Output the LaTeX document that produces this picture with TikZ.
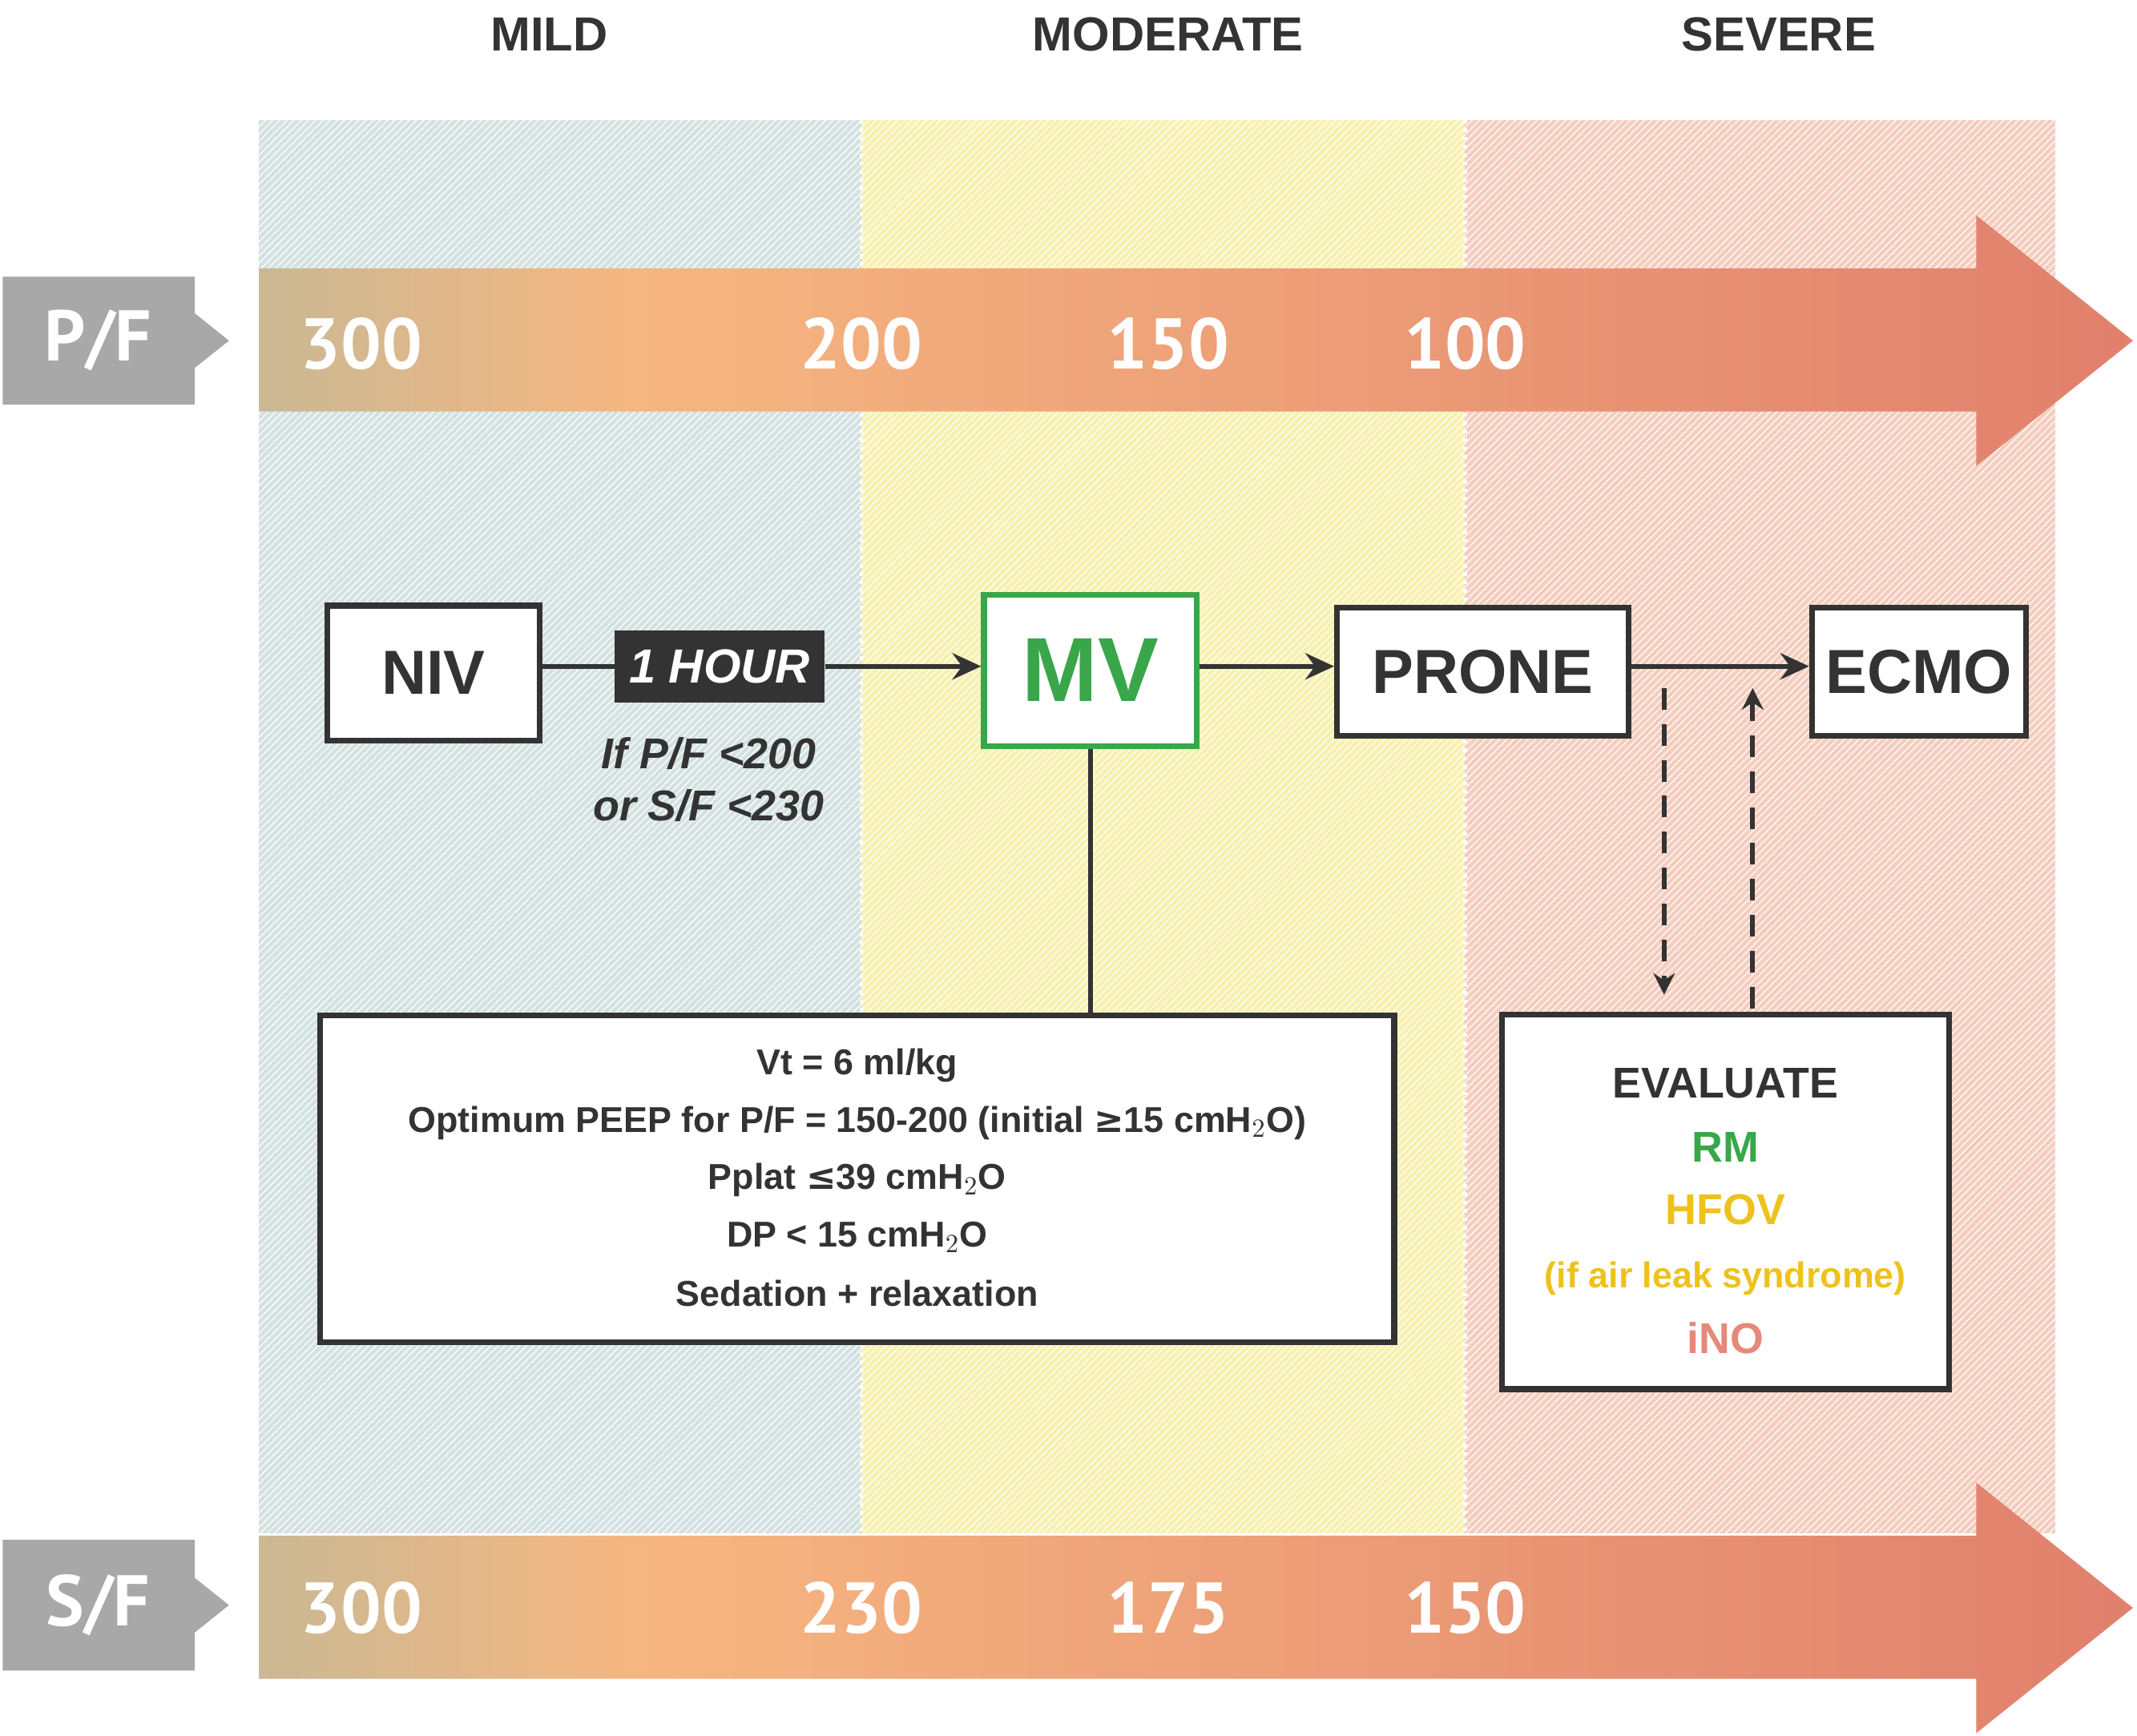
\documentclass[tikz,border=0pt]{standalone}
\usepackage{fontspec}
\setmainfont{Liberation Sans}
\newfontfamily\numfont{PT Sans}
\usetikzlibrary{arrows.meta,patterns}
\definecolor{cteal}{HTML}{5BBFC6}
\definecolor{corange}{HTML}{F6B680}
\definecolor{cred}{HTML}{D45E60}
\definecolor{bgA}{HTML}{D3E2E0}
\definecolor{bgB}{HTML}{F8F0AE}
\definecolor{bgC}{HTML}{F5CDBE}
\definecolor{dk}{HTML}{333333}
\definecolor{gr}{HTML}{A8A8A8}
\definecolor{mvg}{HTML}{3AA64A}
\definecolor{hy}{HTML}{EEC21C}
\definecolor{ino}{HTML}{E58A78}
\pgfdeclarehorizontalshading{arrshade}{100bp}{color(0bp)=(cteal); color(35bp)=(corange); color(100bp)=(cred)}
\tikzset{
 box/.style={draw=dk,line width=2.4pt,fill=white,minimum width=#1,inner sep=0pt},
 num/.style={text=white,font=\numfont\bfseries\fontsize{30}{30}\selectfont},
 hdr/.style={text=dk,font=\bfseries\fontsize{20}{20}\selectfont},
 conn/.style={draw=dk,line width=2pt},
 arr/.style={conn,-{Stealth[length=12pt,width=11pt,inset=4pt]}},
 txt/.style={text=dk,font=\bfseries\fontsize{15}{15}\selectfont},
}
\begin{document}
\begin{tikzpicture}[x=0.02cm,y=-0.02cm]
\useasboundingbox (0,0) rectangle (1568,1274);
% bands
\fill[bgA] (190,88) rectangle (632,1125);
\fill[bgB] (632,88) rectangle (1075,1125);
\fill[bgC] (1075,88) rectangle (1508,1125);
\fill[pattern=north east lines,pattern color=white] (190,88) rectangle (1508,1125);
\draw[white,line width=1.5pt,dotted] (632,88)--(632,1125) (1075,88)--(1075,1125);
% headers
\node[hdr] (h1) at (403,25) {MILD};
\node[hdr] (h2) at (857,25) {MODERATE};
\node[hdr] (h3) at (1305,25) {SEVERE};
% top arrow
\shade[shading=arrshade] (190,197)--(1450,197)--(1450,158)--(1565,250)--(1450,342)--(1450,302)--(190,302)--cycle;
\fill[gr] (2,203)--(143,203)--(143,230)--(168,250)--(143,270)--(143,297)--(2,297)--cycle;
\node[num] (pf) at (72,250) {P/F};
\node[num] at (265,252) {300};
\node[num] at (632,252) {200};
\node[num] at (857,252) {150};
\node[num] at (1075,252) {100};
% bottom arrow
\shade[shading=arrshade] (190,1127)--(1450,1127)--(1450,1088)--(1565,1180)--(1450,1272)--(1450,1232)--(190,1232)--cycle;
\fill[gr] (2,1130)--(143,1130)--(143,1158)--(168,1178)--(143,1198)--(143,1226)--(2,1226)--cycle;
\node[num] (sf) at (72,1178) {S/F};
\node[num] at (265,1180) {300};
\node[num] at (632,1180) {230};
\node[num] at (857,1180) {175};
\node[num] at (1075,1180) {150};
% nodes
\node[box=156*0.02cm,minimum height=99*0.02cm,font=\bfseries\fontsize{26}{26}\selectfont,text=dk] (niv) at (318,494) {NIV};
\node[fill=dk,minimum width=154*0.02cm,minimum height=53*0.02cm,inner sep=0pt,text=white,font=\bfseries\itshape\fontsize{20}{20}\selectfont] (hour) at (528,489) {1 HOUR};
\node[box=156*0.02cm,draw=mvg,minimum height=111*0.02cm,font=\bfseries\fontsize{38}{38}\selectfont,text=mvg] (mv) at (800,492) {MV};
\node[box=214*0.02cm,minimum height=94*0.02cm,font=\bfseries\fontsize{26}{26}\selectfont,text=dk] (prone) at (1088,493) {PRONE};
\node[box=157*0.02cm,minimum height=94*0.02cm,font=\bfseries\fontsize{26}{26}\selectfont,text=dk] (ecmo) at (1408,493) {ECMO};
\node[text=dk,font=\bfseries\itshape\fontsize{18}{22}\selectfont,align=center] (cond) at (520,572) {If P/F <200\\or S/F <230};
\draw[conn] (niv.east|-hour) -- (hour.west);
\draw[arr] (hour.east) -- (mv.west|-hour);
\draw[arr] (mv.east|-hour) -- (prone.west|-hour);
\draw[arr] (prone.east|-hour) -- (ecmo.west|-hour);
% settings box
\node[box=788*0.02cm,minimum height=240*0.02cm] (set) at (629,865) {};
\node[txt] at (629,782) {Vt = 6 ml/kg};
\node[txt] at (629,824) {Optimum PEEP for P/F = 150-200 (initial \fontspec{DejaVu Sans}≥\fontspec{Liberation Sans} 15 cmH$_2$O)};
\node[txt] at (629,866) {Pplat \fontspec{DejaVu Sans}≤\fontspec{Liberation Sans} 39 cmH$_2$O};
\node[txt] at (629,908) {DP < 15 cmH$_2$O};
\node[txt] at (629,949) {Sedation + relaxation};
\draw[conn] (mv.south) -- (mv.south|-set.north);
% evaluate box
\node[box=328*0.02cm,minimum height=275*0.02cm] (ev) at (1266,882) {};
\node[text=dk,font=\bfseries\fontsize{18}{18}\selectfont] at (1266,795) {EVALUATE};
\node[text=mvg,font=\bfseries\fontsize{18}{18}\selectfont] at (1266,842) {RM};
\node[text=hy,font=\bfseries\fontsize{18}{18}\selectfont] at (1266,888) {HFOV};
\node[text=hy,font=\bfseries\fontsize{15}{15}\selectfont] at (1266,938) {(if air leak syndrome)};
\node[text=ino,font=\bfseries\fontsize{18}{18}\selectfont] at (1266,982) {iNO};
\coordinate (d1) at (1221,505);
\coordinate (d2) at (1221,730);
\coordinate (u1) at (1286,740);
\coordinate (u2) at (1286,505);
\draw[arr,dash pattern=on 9pt off 6pt,-{Stealth[length=9pt,width=9pt,inset=3pt]}] (d1) -- (d2);
\draw[arr,dash pattern=on 9pt off 6pt,-{Stealth[length=9pt,width=9pt,inset=3pt]}] (u1) -- (u2);
\end{tikzpicture}
\end{document}
